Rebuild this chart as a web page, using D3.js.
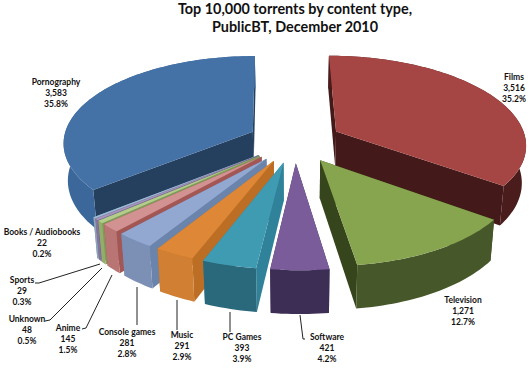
<!DOCTYPE html>
<html>
<head>
<meta charset="utf-8">
<script src="https://cdn.jsdelivr.net/npm/d3@7"></script>
<style>
html, body { margin: 0; padding: 0; background: #fff; }
text { font-family: Lato, "Open Sans", sans-serif; font-weight: 700; fill: #111; }
</style>
</head>
<body>
<div id="canvas"></div>
<script>
"use strict"

/***********************************
 DATA
************************************/
let categories = ["Films", "Television", "Software", "PC Games", "Music", "Console games",
    "Anime", "Unknown", "Sports", "Books / Audiobooks", "Pornography"];
let values = [3516, 1271, 421, 393, 291, 281, 145, 48, 29, 22, 3583];
let valueLabels = ["3,516", "1,271", "421", "393", "291", "281", "145", "48", "29", "22", "3,583"];
let percentLabels = ["35.2%", "12.7%", "4.2%", "3.9%", "2.9%", "2.8%", "1.5%", "0.5%", "0.3%", "0.2%", "35.8%"];
let titleLines = ["Top 10,000 torrents by content type,", "PublicBT, December 2010"];

/***********************************
 CONFIGURATION VARIABLES
************************************/
let svgWidth = 530;
let svgHeight = 368;
let centerX = 295;
let centerY = 141;
let vanishX = 271;  // x the perspective shrinks towards
let radius = 190;
let explode = 47;   // how far each slice is pulled out
let squash = 0.46;  // ground plane tilt
let persp = 0.00066; // perspective strength
let depth = 37;     // slice thickness
let taper = 0.0005; // lower face is a little narrower than the top

// [top, radial wall, outer side]
let colors = [
    ["#a64644", "#431a19", "#4a1c1b"],
    ["#87a44e", "#37451d", "#46582a"],
    ["#7a5c9b", "#3a2b50", "#3c2e54"],
    ["#3f9bb2", "#2f8299", "#2a687b"],
    ["#de8837", "#bc6e25", "#d07f33"],
    ["#93a8d1", "#6b84ab", "#7c90b6"],
    ["#d29291", "#a35755", "#b97573"],
    ["#b4cc8b", "#7f9a58", "#94ad6b"],
    ["#a594bf", "#75648f", "#85749f"],
    ["#9fbcd8", "#8095ab", "#8fa5ba"],
    ["#4472a6", "#25405f", "#3c679a"]
];

// text centre of the first label line, and optional leader line
let labelSpots = [
    { x: 514, y: 80 }, { x: 463, y: 303 }, { x: 327, y: 340 }, { x: 242, y: 340 },
    { x: 182, y: 338 }, { x: 127, y: 335 }, { x: 68, y: 331 }, { x: 27, y: 322 },
    { x: 22, y: 283 }, { x: 42, y: 235 }, { x: 56, y: 85 }
];
let leaders = [
    null, null,
    [[305, 339], [303, 339], [300, 315]],
    [[230, 332], [230, 312]],
    [[177, 330], [177, 300]],
    [[137, 325], [137, 287]],
    [[82, 329], [86, 328], [112, 275]],
    [[45, 321], [50, 320], [102, 268]],
    [[35, 283], [39, 283], [100, 264]],
    null, null
];

/***********************************
 CREATE SVG CANVAS
************************************/
let svg = d3.select("#canvas")
    .append("svg")
    .attr("width", svgWidth)
    .attr("height", svgHeight)
    .style("display", "block");

/***********************************
 PIE LAYOUT AND PROJECTION
************************************/
let pie = d3.pie().sort(null).value(d => d)(values);

// ground plane (gx right, gy towards viewer, h down) to screen
function project(gx, gy, h) {
    let f = 1 / (1 - gy * persp);
    let gxTapered = gx * (1 - h * taper);
    return [vanishX + (gxTapered + centerX - vanishX) * f, centerY + (gy * squash + h) * f];
}

// point on a slice, r along angle a, moved out by the explode offset
function slicePoint(d, r, a, h) {
    let mid = (d.startAngle + d.endAngle) / 2;
    let gx = explode * Math.sin(mid) + r * Math.sin(a);
    let gy = -explode * Math.cos(mid) - r * Math.cos(a);
    return project(gx, gy, h);
}

function rimAngles(d) {
    let n = Math.max(2, Math.ceil((d.endAngle - d.startAngle) * 40));
    return d3.range(n + 1).map(i => d.startAngle + (d.endAngle - d.startAngle) * i / n);
}

let line = d3.line().curve(d3.curveLinearClosed);

function topFace(d) {
    let pts = [slicePoint(d, 0, 0, 0)];
    rimAngles(d).forEach(a => pts.push(slicePoint(d, radius, a, 0)));
    return line(pts);
}

function wallFace(d, a) {
    return line([
        slicePoint(d, 0, a, 0),
        slicePoint(d, radius, a, 0),
        slicePoint(d, radius, a, depth),
        slicePoint(d, 0, a, depth)
    ]);
}

function outerFace(d) {
    let angles = rimAngles(d);
    let upper = angles.map(a => slicePoint(d, radius, a, 0));
    let lower = angles.slice().reverse().map(a => slicePoint(d, radius, a, depth));
    return line(upper.concat(lower));
}

/***********************************
 DRAW SLICES (back to front)
************************************/
let drawOrder = [0, 10, 9, 8, 7, 6, 5, 4, 3, 2, 1];

let sliceGroups = svg.selectAll("g.slice")
    .data(drawOrder)
    .join("g")
    .attr("class", "slice");

sliceGroups.append("path")
    .attr("d", i => wallFace(pie[i], pie[i].startAngle))
    .attr("fill", i => colors[i][1]);

sliceGroups.append("path")
    .attr("d", i => wallFace(pie[i], pie[i].endAngle))
    .attr("fill", i => colors[i][1]);

sliceGroups.append("path")
    .attr("d", i => outerFace(pie[i]))
    .attr("fill", i => colors[i][2]);

sliceGroups.append("path")
    .attr("d", i => topFace(pie[i]))
    .attr("fill", i => colors[i][0]);

/***********************************
 LEADER LINES
************************************/
svg.selectAll("path.leader")
    .data(leaders.filter(d => d))
    .join("path")
    .attr("class", "leader")
    .attr("fill", "none")
    .attr("stroke", "#222")
    .attr("stroke-width", 1)
    .attr("d", d3.line());

/***********************************
 LABELS
************************************/
let labels = svg.selectAll("text.label")
    .data(categories)
    .join("text")
    .attr("class", "label")
    .attr("text-anchor", "middle")
    .attr("font-size", 8.5);

labels.append("tspan")
    .attr("x", (d, i) => labelSpots[i].x)
    .attr("y", (d, i) => labelSpots[i].y)
    .text(d => d);

labels.append("tspan")
    .attr("x", (d, i) => labelSpots[i].x)
    .attr("y", (d, i) => labelSpots[i].y + 10.8)
    .text((d, i) => valueLabels[i]);

labels.append("tspan")
    .attr("x", (d, i) => labelSpots[i].x)
    .attr("y", (d, i) => labelSpots[i].y + 21.6)
    .text((d, i) => percentLabels[i]);

/***********************************
 GRAPH TITLE
************************************/
svg.selectAll("text.title")
    .data(titleLines)
    .join("text")
    .attr("class", "title")
    .attr("x", 295)
    .attr("y", (d, i) => 14 + i * 18)
    .attr("text-anchor", "middle")
    .attr("font-size", 14.4)
    .text(d => d);
</script>
</body>
</html>
